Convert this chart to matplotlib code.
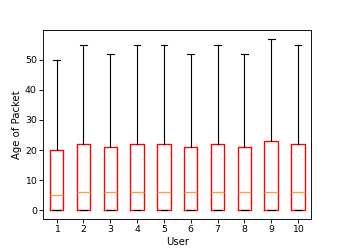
import matplotlib
matplotlib.use("Agg")
import matplotlib.pyplot as plt

users = [1, 2, 3, 4, 5, 6, 7, 8, 9, 10]
q1 = [0, 0, 0, 0, 0, 0, 0, 0, 0, 0]
medians = [5, 6, 6, 6, 6, 6, 6, 6, 6, 6]
q3 = [20, 22, 21, 22, 22, 21, 22, 21, 23, 22]
whislo = [0, 0, 0, 0, 0, 0, 0, 0, 0, 0]
whishi = [50, 55, 52, 55, 55, 52, 55, 52, 57, 55]

stats = []
for u, a, m, b, lo, hi in zip(users, q1, medians, q3, whislo, whishi):
    stats.append(dict(label=str(u), q1=a, med=m, q3=b, whislo=lo, whishi=hi, fliers=[]))

plt.rcParams['font.size'] = 12.5
plt.rcParams['axes.labelsize'] = 13.5
plt.rcParams['axes.linewidth'] = 1.2
plt.rcParams['xtick.major.width'] = 1.2
plt.rcParams['ytick.major.width'] = 1.2
plt.rcParams['xtick.major.size'] = 5
plt.rcParams['ytick.major.size'] = 5

dpi = 54
fig, ax = plt.subplots(figsize=(346 / dpi, 250 / dpi), dpi=dpi)
fig.subplots_adjust(left=0.125, right=0.9, top=0.88, bottom=0.124)
ax.bxp(stats, positions=users, widths=0.5, showfliers=False,
       boxprops=dict(color='red', linewidth=1.8),
       whiskerprops=dict(color='black', linewidth=1.5),
       capprops=dict(color='black', linewidth=1.5),
       medianprops=dict(color='#ff9f40', linewidth=1.8))
ax.set_xlabel('User')
ax.set_ylabel('Age of Packet')
fig.savefig('out.png', dpi=dpi)
